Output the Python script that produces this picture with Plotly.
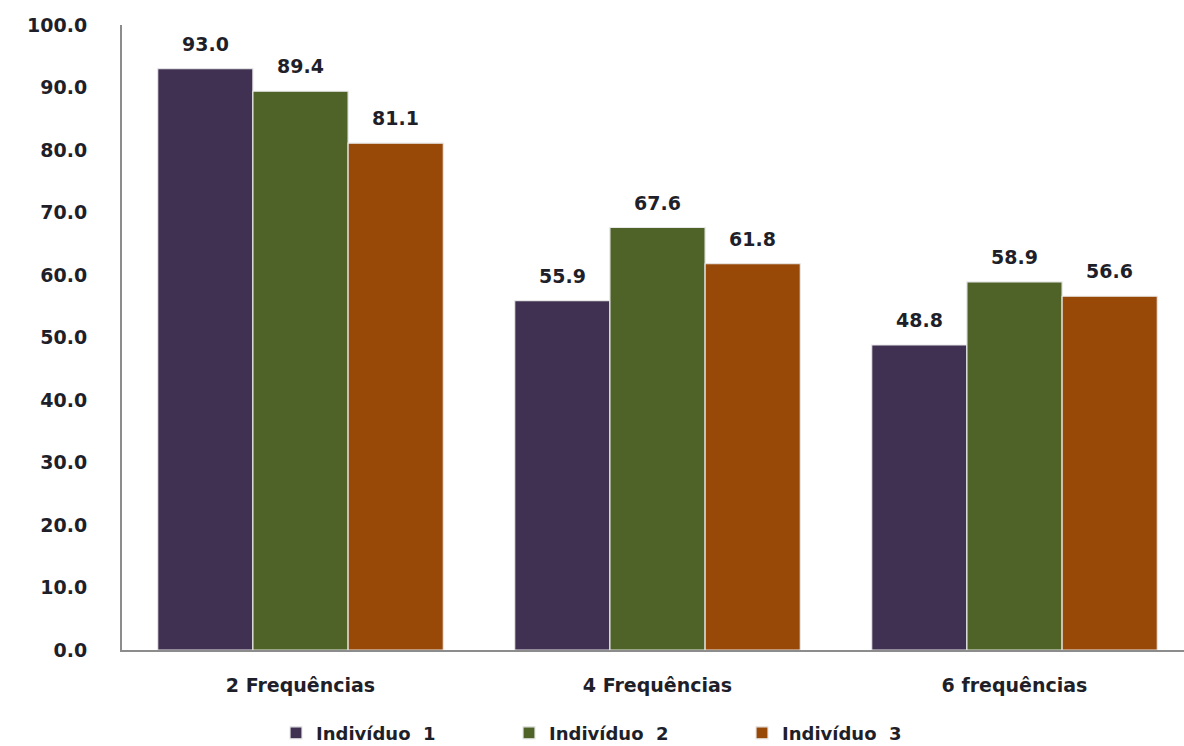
import plotly.graph_objects as go

categories = ["2 Frequências", "4 Frequências", "6 frequências"]
series_names = ["Indivíduo  1", "Indivíduo  2", "Indivíduo  3"]
individuo_1 = [93.0, 55.9, 48.8]
individuo_2 = [89.4, 67.6, 58.9]
individuo_3 = [81.1, 61.8, 56.6]
y_ticks = [0, 10, 20, 30, 40, 50, 60, 70, 80, 90, 100]

series_values = [individuo_1, individuo_2, individuo_3]
colors = ["#403152", "#4F6228", "#984807"]
font_family = "DejaVu Sans, Verdana, sans-serif"
text_color = "#1f1f2a"
label_font = dict(family=font_family, size=19, color=text_color, weight="bold")
legend_font = dict(family=font_family, size=18, color=text_color, weight="bold")

fig = go.Figure()
for name, vals, col in zip(series_names, series_values, colors):
    fig.add_trace(go.Bar(
        x=list(range(len(categories))), y=vals, name=name,
        marker=dict(color=col, line=dict(color="#e8e8e8", width=1.2)),
    ))

# value labels above each bar
n = len(series_values)
bar_w = 0.8 / n
annotations = []
for j, vals in enumerate(series_values):
    for i, v in enumerate(vals):
        annotations.append(dict(
            x=i + (j - (n - 1) / 2) * bar_w, y=v, xref="x", yref="y",
            text=f"{v:.1f}", showarrow=False, yanchor="middle", yshift=25,
            font=label_font,
        ))

fig.update_layout(
    width=1184, height=746,
    margin=dict(l=122, r=0, t=25, b=96, autoexpand=False),
    paper_bgcolor="white", plot_bgcolor="white",
    barmode="group", bargap=0.2, bargroupgap=0.0,
    font=label_font,
    annotations=annotations,
    showlegend=True,
    legend=dict(
        orientation="h", x=(276 - 122) / 1062, xanchor="left", y=-0.133, yanchor="middle",
        font=legend_font, itemwidth=30, tracegroupgap=0, traceorder="normal",
        entrywidth=188, entrywidthmode="pixels",
    ),
)
fig.update_xaxes(
    range=[-0.5, (1184 - 122) / 357 - 0.5],
    tickmode="array", tickvals=list(range(len(categories))), ticktext=categories,
    showline=True, linecolor="#8c8c8c", linewidth=2, showgrid=False,
    zeroline=False, ticks="", ticklabelstandoff=17,
    tickfont=label_font,
)
fig.update_yaxes(
    range=[0, 100], tickmode="array", tickvals=y_ticks,
    ticktext=[f"{t:.1f}" for t in y_ticks],
    showline=True, linecolor="#8c8c8c", linewidth=2, showgrid=False,
    zeroline=False, ticks="", ticklabelstandoff=29,
    tickfont=label_font,
)

fig.write_html("out.html")
